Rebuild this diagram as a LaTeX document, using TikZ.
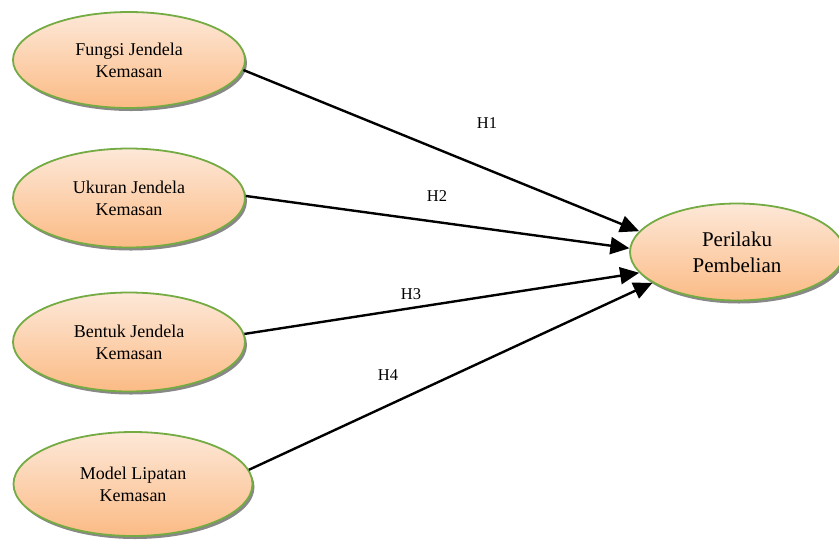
\documentclass[tikz,border=0pt]{standalone}
\usepackage{fontspec}
\setmainfont{Liberation Serif}
\usetikzlibrary{shapes.geometric,arrows.meta,shadows}
\definecolor{topfill}{HTML}{FDE8D8}
\definecolor{botfill}{HTML}{FBBB85}
\definecolor{rimgreen}{HTML}{74AB43}
\tikzset{
  var/.style={ellipse, draw=rimgreen, line width=1.8pt, top color=topfill, bottom color=botfill,
    align=center, inner sep=0pt, text=black,
    drop shadow={shadow xshift=2pt, shadow yshift=-3pt, fill=black!55, opacity=0.85}},
  leftvar/.style={var, minimum width=232pt, minimum height=96pt, font=\fontsize{18}{22}\selectfont},
  link/.style={line width=2.4pt, -{Triangle[length=19pt,width=17pt]}},
  hyp/.style={font=\fontsize{16.5}{20}\selectfont, inner sep=0pt}
}
\begin{document}
\begin{tikzpicture}[x=1pt,y=-1pt]
\useasboundingbox (0,0) rectangle (839,539);
\node[leftvar] (f) at (129,60) {Fungsi Jendela\\Kemasan};
\node[leftvar, minimum height=99pt] (u) at (129,198) {Ukuran Jendela\\Kemasan};
\node[leftvar, minimum height=99pt] (b) at (129,342) {Bentuk Jendela\\Kemasan};
\node[leftvar, minimum width=239pt, minimum height=104pt] (m) at (133,484) {Model Lipatan\\Kemasan};
\node[var, minimum width=214pt, minimum height=97pt, font=\fontsize{21}{26}\selectfont] (p) at (737,252) {Perilaku\\Pembelian};
\draw[link] (f.-5) -- (p.168);
\draw[link] (u.1) -- (p.178);
\draw[link] (b.4) -- (p.192);
\draw[link] (m.7) -- (p.200);
\node[hyp] (h1) at (487,123) {H1};
\node[hyp] (h2) at (437,196) {H2};
\node[hyp] (h3) at (411,294) {H3};
\node[hyp] (h4) at (388,375) {H4};
\end{tikzpicture}
\end{document}
